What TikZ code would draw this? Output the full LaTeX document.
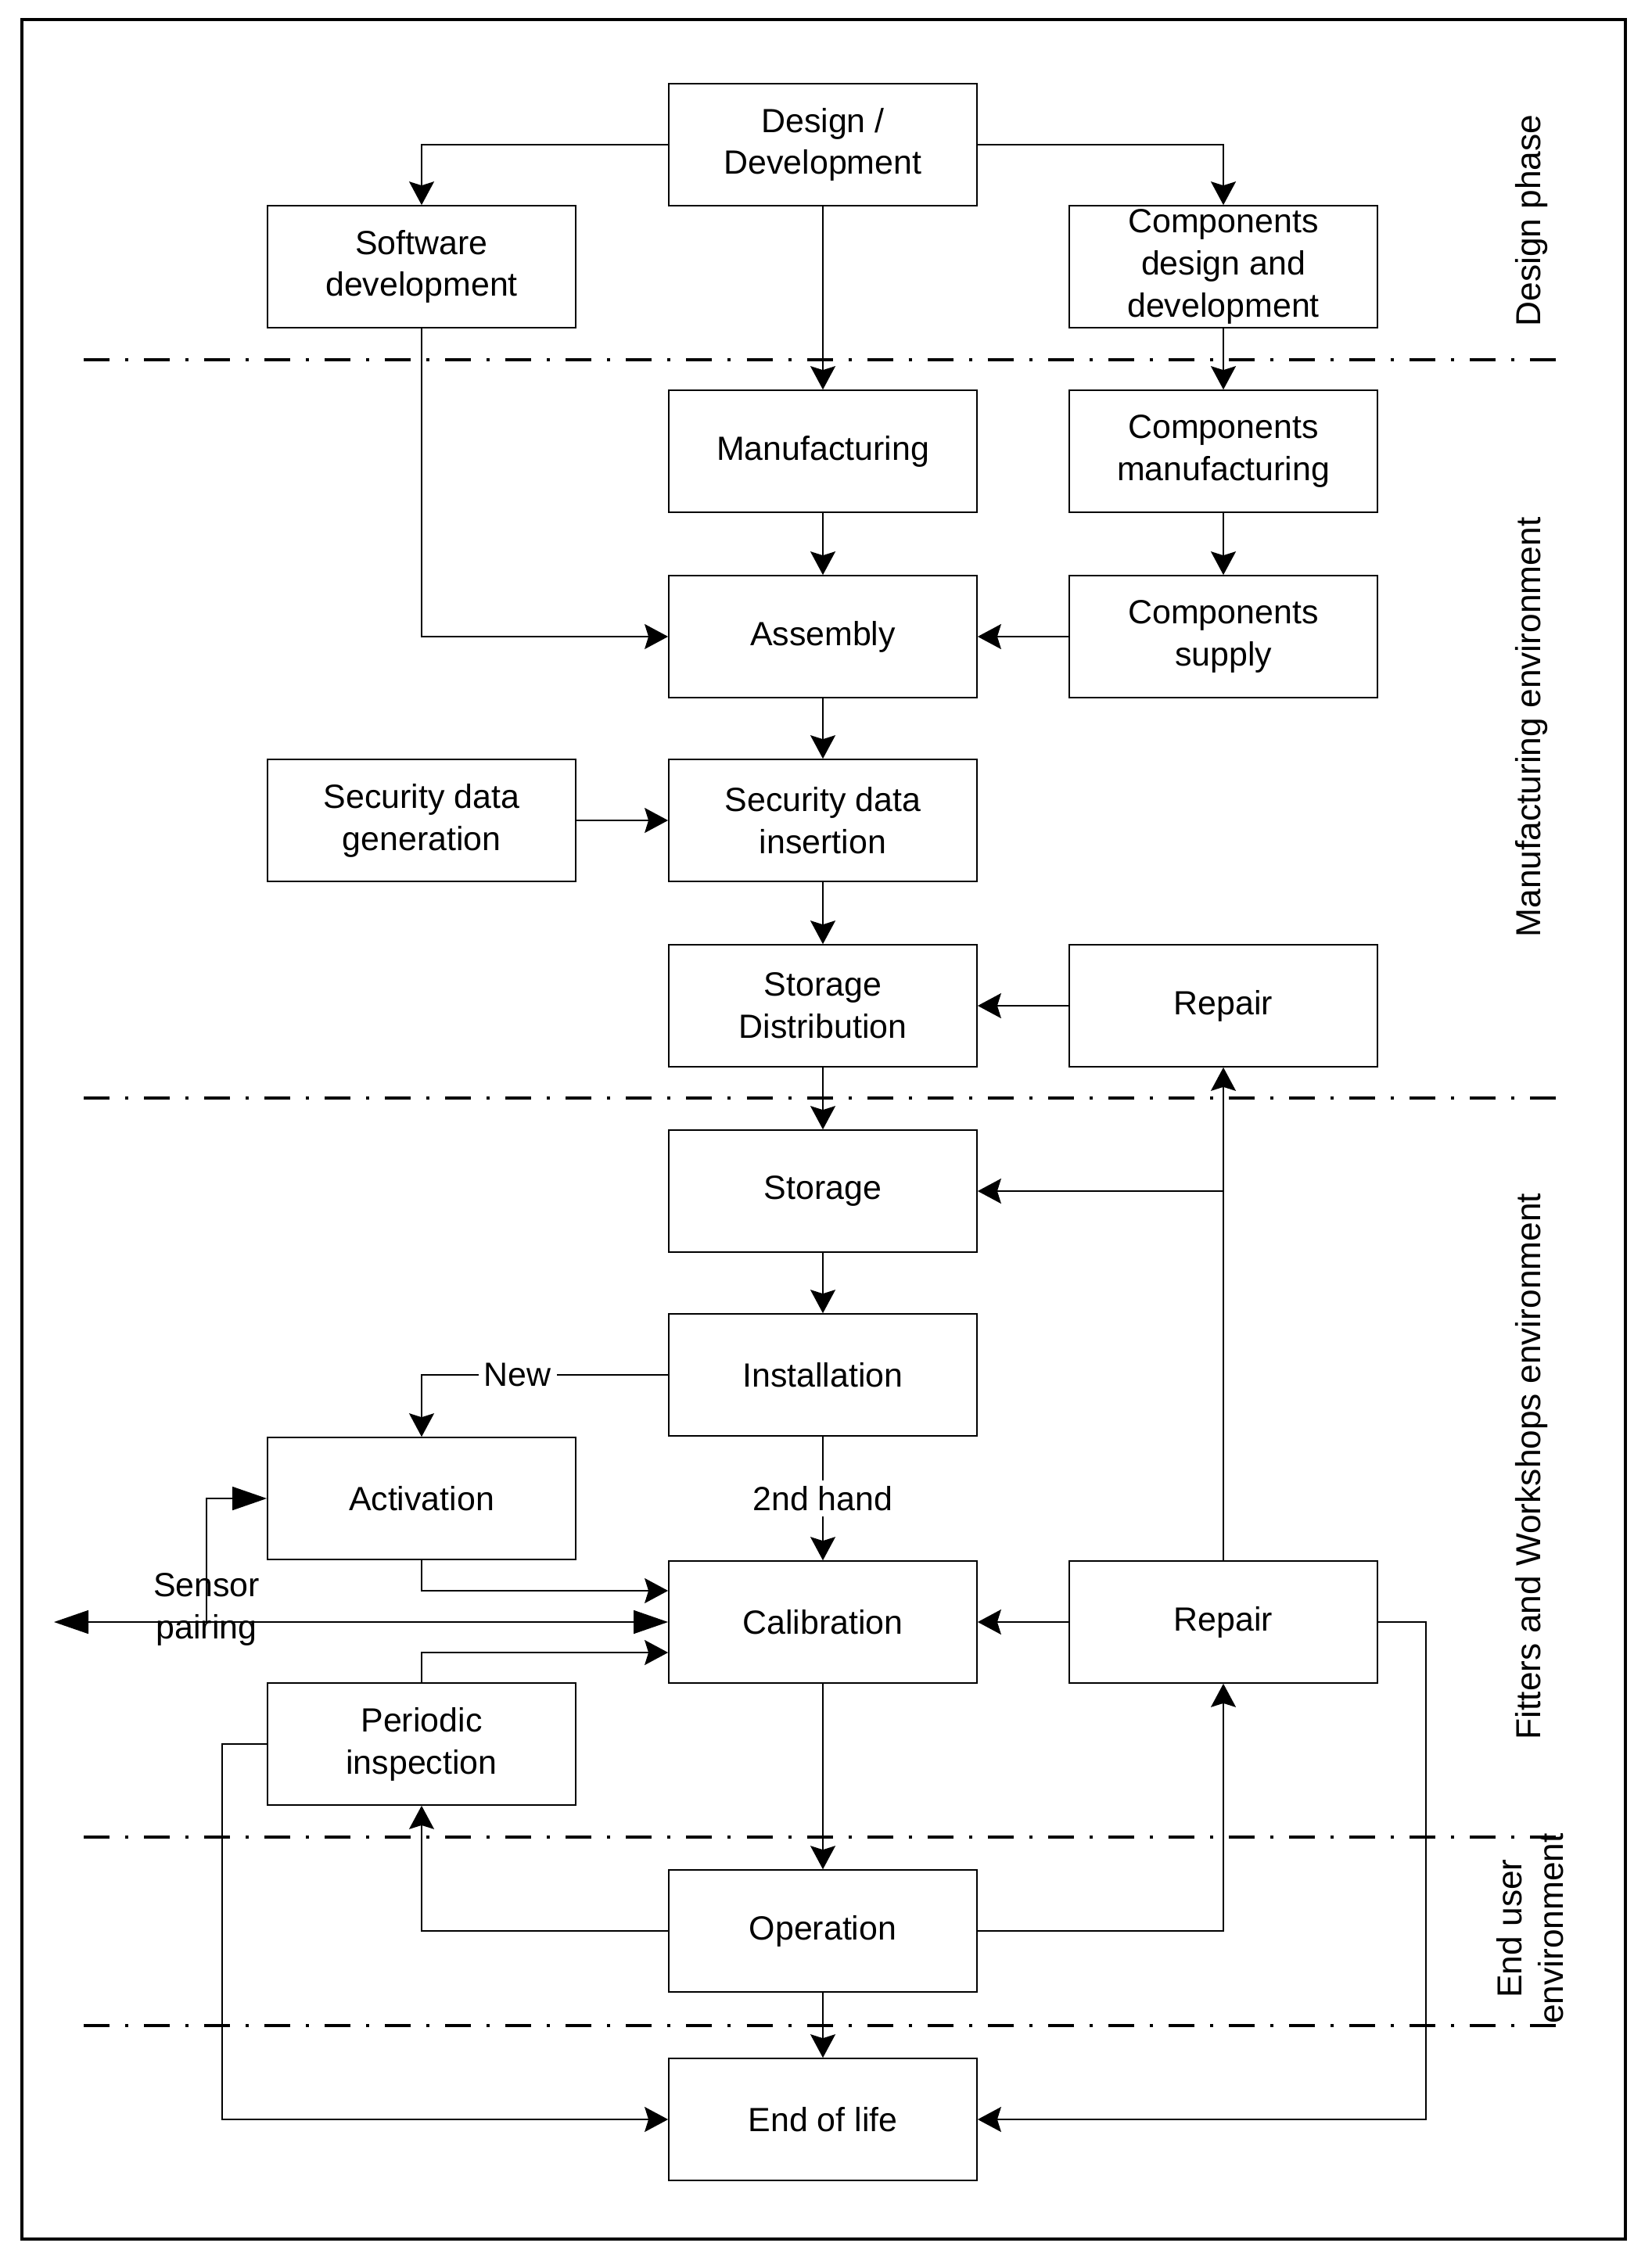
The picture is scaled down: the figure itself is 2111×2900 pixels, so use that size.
\documentclass[tikz,border=0pt]{standalone}
\usepackage{fontspec}
\setmainfont{Liberation Sans}
\usetikzlibrary{arrows.meta}
\begin{document}
\begin{tikzpicture}[x=0.01cm,y=-0.01cm,
  box/.style={draw, line width=0.45pt, minimum width=3.94cm, minimum height=1.56cm, inner sep=0pt, align=center, font=\fontsize{12.2}{15.3}\selectfont},
  conn/.style={line width=0.45pt, -{Stealth[length=3mm,width=3.2mm,inset=0.5mm]}},
  bigconn/.style={line width=0.45pt, -{Triangle[length=4.4mm,width=3mm]}},
  bigboth/.style={line width=0.45pt, {Triangle[length=4.4mm,width=3mm]}-{Triangle[length=4.4mm,width=3mm]}},
  phaseline/.style={line width=1.1pt, dash pattern=on 3.3mm off 2mm on 0.4mm off 2mm},
  side/.style={rotate=90, align=center, inner sep=0pt, font=\fontsize{12.6}{15}\selectfont},
  lbl/.style={fill=white, inner sep=2pt, font=\fontsize{12.2}{15.3}\selectfont},
  free/.style={align=center, inner sep=0pt, font=\fontsize{12.2}{15.3}\selectfont}
]
\useasboundingbox (0,0) rectangle (2111,2900);
\draw[line width=1.1pt] (28,25) rectangle (2078,2863);

% phase separators
\draw[phaseline] (107,460) -- (1995,460);
\draw[phaseline] (107,1404) -- (1995,1404);
\draw[phaseline] (107,2349) -- (1995,2349);
\draw[phaseline] (107,2590) -- (1995,2590);

% boxes
\node[box] (dd) at (1052,185) {Design /\\Development};
\node[box] (sw) at (539,341) {Software\\development};
\node[box] (cdd) at (1564,341) {Components\\design and\\development};
\node[box] (man) at (1052,577) {Manufacturing};
\node[box] (cman) at (1564,577) {Components\\manufacturing};
\node[box] (asm) at (1052,814) {Assembly};
\node[box] (csup) at (1564,814) {Components\\supply};
\node[box] (sgen) at (539,1049) {Security data\\generation};
\node[box] (sins) at (1052,1049) {Security data\\insertion};
\node[box] (sdist) at (1052,1286) {Storage\\Distribution};
\node[box] (rep1) at (1564,1286) {Repair};
\node[box] (stor) at (1052,1523) {Storage};
\node[box] (inst) at (1052,1758) {Installation};
\node[box] (act) at (539,1916) {Activation};
\node[box] (cal) at (1052,2074) {Calibration};
\node[box] (rep2) at (1564,2074) {Repair};
\node[box] (per) at (539,2230) {Periodic\\inspection};
\node[box] (op) at (1052,2469) {Operation};
\node[box] (eol) at (1052,2710) {End of life};

% helper coordinates
\coordinate (farleft) at (69,2074);
\coordinate (sp) at (264,2074);
\coordinate (br) at (1564,1523);
\coordinate (pl) at (284,2230);
\coordinate (rr) at (1823,2074);

% connectors
\draw[conn] (dd.west) -| (sw.north);
\draw[conn] (dd.east) -| (cdd.north);
\draw[conn] (dd.south) -- (man.north);
\draw[conn] (cdd.south) -- (cman.north);
\draw[conn] (sw.south) |- (asm.west);
\draw[conn] (man.south) -- (asm.north);
\draw[conn] (cman.south) -- (csup.north);
\draw[conn] (csup.west) -- (asm.east);
\draw[conn] (asm.south) -- (sins.north);
\draw[conn] (sgen.east) -- (sins.west);
\draw[conn] (sins.south) -- (sdist.north);
\draw[conn] (rep1.west) -- (sdist.east);
\draw[conn] (sdist.south) -- (stor.north);
\draw[conn] (stor.south) -- (inst.north);
\draw[conn] (inst.west) -| node[lbl, pos=0.305] (newlbl) {New} (act.north);
\draw[conn] (inst.south) -- node[lbl] (hand) {2nd hand} (cal.north);
\draw[conn] (act.south) |- ([yshift=0.4cm]cal.west);
\draw[conn] (per.north) |- ([yshift=-0.39cm]cal.west);
\draw[bigboth] (farleft) -- (cal.west);
\draw[bigconn] (sp) |- (act.west);
\node[free] (spl) at (264,2058) {Sensor\\pairing};
\draw[conn] (rep2.west) -- (cal.east);
\draw[conn] (rep2.north) -- (rep1.south);
\draw[conn] (br) -- (stor.east);
\draw[conn] (cal.south) -- (op.north);
\draw[conn] (op.west) -| (per.south);
\draw[conn] (op.east) -| (rep2.south);
\draw[conn] (op.south) -- (eol.north);
\draw[conn] (per.west) -- (pl) |- (eol.west);
\draw[conn] (rep2.east) -- (rr) |- (eol.east);

% side labels
\node[side] (lab1) at (1958,282) {Design phase};
\node[side] (lab2) at (1958,930) {Manufacturing environment};
\node[side] (lab3) at (1958,1875) {Fitters and Workshops environment};
\node[side] (lab4) at (1956,2466) {End user\\environment};
\end{tikzpicture}
\end{document}
